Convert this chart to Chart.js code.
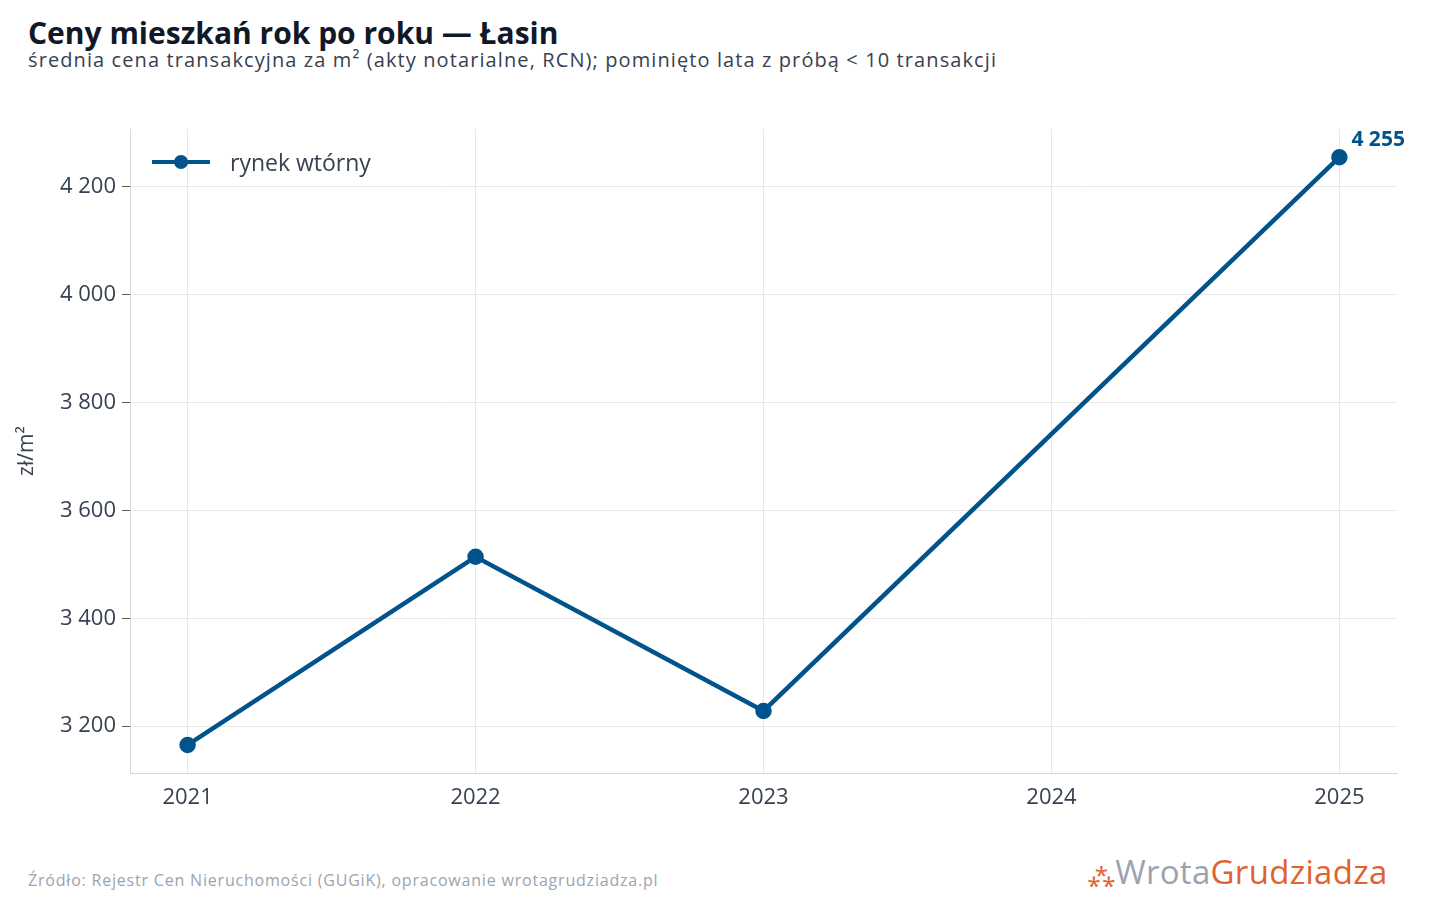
<!DOCTYPE html>
<html><head><meta charset="utf-8">
<script src="https://cdn.jsdelivr.net/npm/chart.js@4"></script>
<style>
body{margin:0;width:1440px;height:900px;background:#fff;font-family:"Open Sans","Noto Sans",sans-serif;position:relative;overflow:hidden}
#title{position:absolute;left:28px;top:12px;font-size:30px;font-weight:700;color:#111827}
#sub{position:absolute;left:28px;top:46px;font-size:20px;color:#374151;letter-spacing:1.1px}
#wrap{position:absolute;left:0;top:110px;width:1440px;height:710px}
#legend{position:absolute;left:152px;top:146px;font-size:23px;color:#374151;display:flex;align-items:center}
#legend .ln{width:58px;height:4px;background:#00548b;position:relative;margin-right:20px}
#legend .ln:after{content:"";position:absolute;left:22px;top:-5px;width:14px;height:14px;border-radius:50%;background:#00548b}
#src{position:absolute;left:28px;top:869px;font-size:16px;color:#9ca3af;letter-spacing:0.8px}
#logo{position:absolute;left:1088px;top:849px;font-size:33px;color:#9ca3af;letter-spacing:0.3px}
#logo b{font-weight:400;color:#e0622f}
</style></head><body>
<div id="title">Ceny mieszkań rok po roku — Łasin</div>
<div id="sub">średnia cena transakcyjna za m² (akty notarialne, RCN); pominięto lata z próbą &lt; 10 transakcji</div>
<div id="wrap"><canvas id="c"></canvas></div>
<div id="legend"><span class="ln"></span>rynek wtórny</div>
<div id="src">Źródło: Rejestr Cen Nieruchomości (GUGiK), opracowanie wrotagrudziadza.pl</div>
<div id="logo"><span style="color:#e0622f;font-size:24px">⁂</span>Wrota<b>Grudziadza</b></div>
<script>
// Data
const years = [2021, 2022, 2023, 2024, 2025];
const prices = [3165, 3514, 3228, null, 4255];
const yTicks = [3200, 3400, 3600, 3800, 4000, 4200];
const lastLabel = "4 255";

const fmt = v => String(v).replace(/\B(?=(\d{3})+(?!\d))/g, " ");
Chart.defaults.font.family = "'Open Sans', 'Noto Sans', sans-serif";

// Draws the value label next to the last point
const lastLabelPlugin = {
  id: "lastLabel",
  afterDatasetsDraw(chart) {
    const meta = chart.getDatasetMeta(0);
    const pt = meta.data[meta.data.length - 1];
    const ctx = chart.ctx;
    ctx.save();
    ctx.font = "bold 21px 'Open Sans', sans-serif";
    ctx.fillStyle = "#00548b";
    ctx.textAlign = "left";
    ctx.fillText(lastLabel, pt.x + 12, pt.y - 11);
    ctx.restore();
  }
};

new Chart(document.getElementById("c"), {
  type: "line",
  data: {
    datasets: [{
      data: years.map((y, i) => ({ x: y, y: prices[i] })),
      borderColor: "#00548b",
      backgroundColor: "#00548b",
      borderWidth: 4.5,
      pointRadius: years.map((y, i) => prices[i] === null ? 0 : 6),
      spanGaps: true,
      tension: 0
    }]
  },
  options: {
    responsive: true,
    maintainAspectRatio: false,
    animation: false,
    layout: { padding: { top: 17, right: 43, left: 14 } },
    plugins: { legend: { display: false }, tooltip: { enabled: false } },
    scales: {
      x: {
        type: "linear", min: 2020.8, max: 2025.2,
        afterBuildTicks: s => { s.ticks = years.map(v => ({ value: v })); },
        afterFit: s => { s.height = 47; },
        grid: { color: "#e8e8e8", drawTicks: false },
        border: { color: "#d8d8d8" },
        ticks: { color: "#374151", font: { size: 22 }, padding: 12, callback: v => String(v) }
      },
      y: {
        min: 3113, max: 4307,
        afterBuildTicks: s => { s.ticks = yTicks.map(v => ({ value: v })); },
        afterFit: s => { s.width = 116; },
        grid: { color: "#e8e8e8", tickLength: 8, tickColor: "#555" },
        border: { color: "#d8d8d8" },
        title: { display: true, text: "zł/m²", color: "#374151", font: { size: 21 }, padding: 0 },
        ticks: { color: "#374151", font: { size: 22 }, padding: 6, callback: v => fmt(v) }
      }
    }
  },
  plugins: [lastLabelPlugin]
});
</script>
</body></html>
